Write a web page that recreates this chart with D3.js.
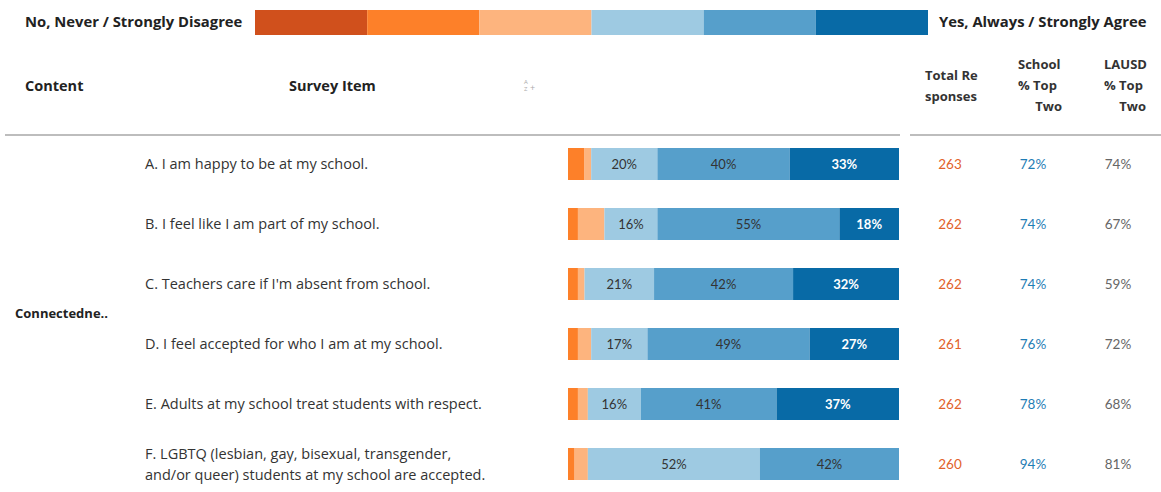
<!DOCTYPE html>
<html>
<head>
<meta charset="utf-8">
<script src="https://cdn.jsdelivr.net/npm/d3@7"></script>
<style>
  body { margin: 0; background: #fff; }
  svg { display: block; font-family: "Open Sans", Lato, sans-serif; }
  .num { font-family: Lato, "Open Sans", sans-serif; }
</style>
</head>
<body>
<svg id="chart" width="1161" height="492"></svg>
<script>
// legend / response categories
const categories = ['No, Never / Strongly Disagree', 'Mostly No', 'Somewhat No', 'Somewhat Yes', 'Mostly Yes', 'Yes, Always / Strongly Agree'];
const catColors = ['#d0501c', '#fd8029', '#fdb47e', '#9ecae2', '#569fcb', '#086aa6'];

const content = 'Connectedne..';
const items = [
    ['A. I am happy to be at my school.'],
    ['B. I feel like I am part of my school.'],
    ['C. Teachers care if I\'m absent from school.'],
    ['D. I feel accepted for who I am at my school.'],
    ['E. Adults at my school treat students with respect.'],
    ['F. LGBTQ (lesbian, gay, bisexual, transgender,', 'and/or queer) students at my school are accepted.']
];
// percent per category, one row per item
const shares = [
    [0, 5, 2, 20, 40, 33],
    [0, 3, 8, 16, 55, 18],
    [0, 3, 2, 21, 42, 32],
    [0, 3, 4, 17, 49, 27],
    [0, 3, 3, 16, 41, 37],
    [0, 2, 4, 52, 42, 0]
];
const totalResponses = [263, 262, 262, 261, 262, 260];
const schoolTopTwo = ['72%', '74%', '74%', '76%', '78%', '94%'];
const lausdTopTwo = ['74%', '67%', '59%', '72%', '68%', '81%'];

const svg = d3.select('#chart');

// 1. Legend bar at the top
const legendX = d3.scaleBand().domain(categories).range([255, 928]);
svg.selectAll('rect.legend')
    .data(categories)
    .enter()
    .append('rect')
    .attr('class', 'legend')
    .attr('x', d => legendX(d))
    .attr('y', 10)
    .attr('width', legendX.bandwidth())
    .attr('height', 25)
    .style('fill', (d, i) => catColors[i]);

svg.append('text').attr('x', 25).attr('y', 27)
    .style('font-size', '14.8px').style('font-weight', 'bold').style('fill', '#222')
    .text(categories[0]);
svg.append('text').attr('x', 939).attr('y', 27)
    .style('font-size', '14.8px').style('font-weight', 'bold').style('fill', '#222')
    .text(categories[5]);

// 2. Column headers
const head = svg.append('g')
    .style('font-size', '14.5px').style('font-weight', 'bold').style('fill', '#222');
head.append('text').attr('x', 25).attr('y', 91).text('Content');
head.append('text').attr('x', 289).attr('y', 91).text('Survey Item');

const small = svg.append('g').style('font-size', '13px').style('font-weight', 'bold').style('fill', '#333');
small.append('text').attr('x', 925).attr('y', 80).text('Total Re');
small.append('text').attr('x', 925).attr('y', 101).text('sponses');
small.append('text').attr('x', 1018).attr('y', 69).text('School');
small.append('text').attr('x', 1018).attr('y', 90).text('% Top');
small.append('text').attr('x', 1062).attr('y', 111).attr('text-anchor', 'end').text('Two');
small.append('text').attr('x', 1104).attr('y', 69).text('LAUSD');
small.append('text').attr('x', 1104).attr('y', 90).text('% Top');
small.append('text').attr('x', 1146).attr('y', 111).attr('text-anchor', 'end').text('Two');

// sort icon
const sortIcon = svg.append('g').style('fill', '#aaa').style('font-size', '6px');
sortIcon.append('text').attr('x', 524).attr('y', 84).text('A');
sortIcon.append('text').attr('x', 524).attr('y', 91).text('Z');
sortIcon.append('text').attr('x', 530).attr('y', 91).style('font-size', '9px').text('+');

// header rule (broken before the numeric columns)
svg.append('line').attr('x1', 5).attr('x2', 900).attr('y1', 135).attr('y2', 135)
    .style('stroke', '#bdbdbd').style('stroke-width', 2);
svg.append('line').attr('x1', 910).attr('x2', 1161).attr('y1', 135).attr('y2', 135)
    .style('stroke', '#bdbdbd').style('stroke-width', 2);

// 3. Rows
const y = d3.scalePoint().domain(d3.range(items.length)).range([134, 494]).padding(0.5);
const x = d3.scaleLinear().domain([0, 100]).range([568, 899]);
const barH = 32;

svg.append('text').attr('x', 15).attr('y', 313).attr('dy', '0.35em')
    .style('font-size', '13px').style('font-weight', 'bold').style('fill', '#222')
    .text(content);

const rows = svg.selectAll('g.row')
    .data(items.map((lines, i) => ({ lines, i })))
    .enter()
    .append('g')
    .attr('class', 'row');

rows.each(function(d) {
    const row = d3.select(this);
    const cy = y(d.i);

    // survey item text
    const lh = 21;
    d.lines.forEach((line, k) => {
        row.append('text')
            .attr('x', 145)
            .attr('y', cy + (k - (d.lines.length - 1) / 2) * lh)
            .attr('dy', '0.35em')
            .style('font-size', '14.5px')
            .style('fill', '#333')
            .text(line);
    });

    // stacked bar
    let acc = 0;
    const segs = shares[d.i].map((v, c) => {
        const s = { c, v, x0: acc, x1: acc + v };
        acc += v;
        return s;
    }).filter(s => s.v > 0);

    row.selectAll('rect')
        .data(segs)
        .enter()
        .append('rect')
        .attr('x', s => x(s.x0))
        .attr('y', cy - barH / 2)
        .attr('width', s => x(s.x1) - x(s.x0))
        .attr('height', barH)
        .style('fill', s => catColors[s.c]);

    row.selectAll('text.seg')
        .data(segs.filter(s => s.v >= 10))
        .enter()
        .append('text')
        .attr('class', 'seg num')
        .attr('x', s => (x(s.x0) + x(s.x1)) / 2)
        .attr('y', cy)
        .attr('dy', '0.35em')
        .attr('text-anchor', 'middle')
        .style('font-size', '13px')
        .style('font-weight', s => s.c === 5 ? 'bold' : 'normal')
        .style('fill', s => s.c === 5 ? '#fff' : '#333')
        .text(s => s.v + '%');

    // numeric columns
    row.append('text').attr('class', 'num').attr('x', 950).attr('y', cy).attr('dy', '0.35em').attr('text-anchor', 'middle')
        .style('font-size', '13.5px').style('fill', '#e2622a').text(totalResponses[d.i]);
    row.append('text').attr('class', 'num').attr('x', 1033).attr('y', cy).attr('dy', '0.35em').attr('text-anchor', 'middle')
        .style('font-size', '13.5px').style('fill', '#1f7db5').text(schoolTopTwo[d.i]);
    row.append('text').attr('class', 'num').attr('x', 1118).attr('y', cy).attr('dy', '0.35em').attr('text-anchor', 'middle')
        .style('font-size', '13.5px').style('fill', '#666').text(lausdTopTwo[d.i]);
});
</script>
</body>
</html>
